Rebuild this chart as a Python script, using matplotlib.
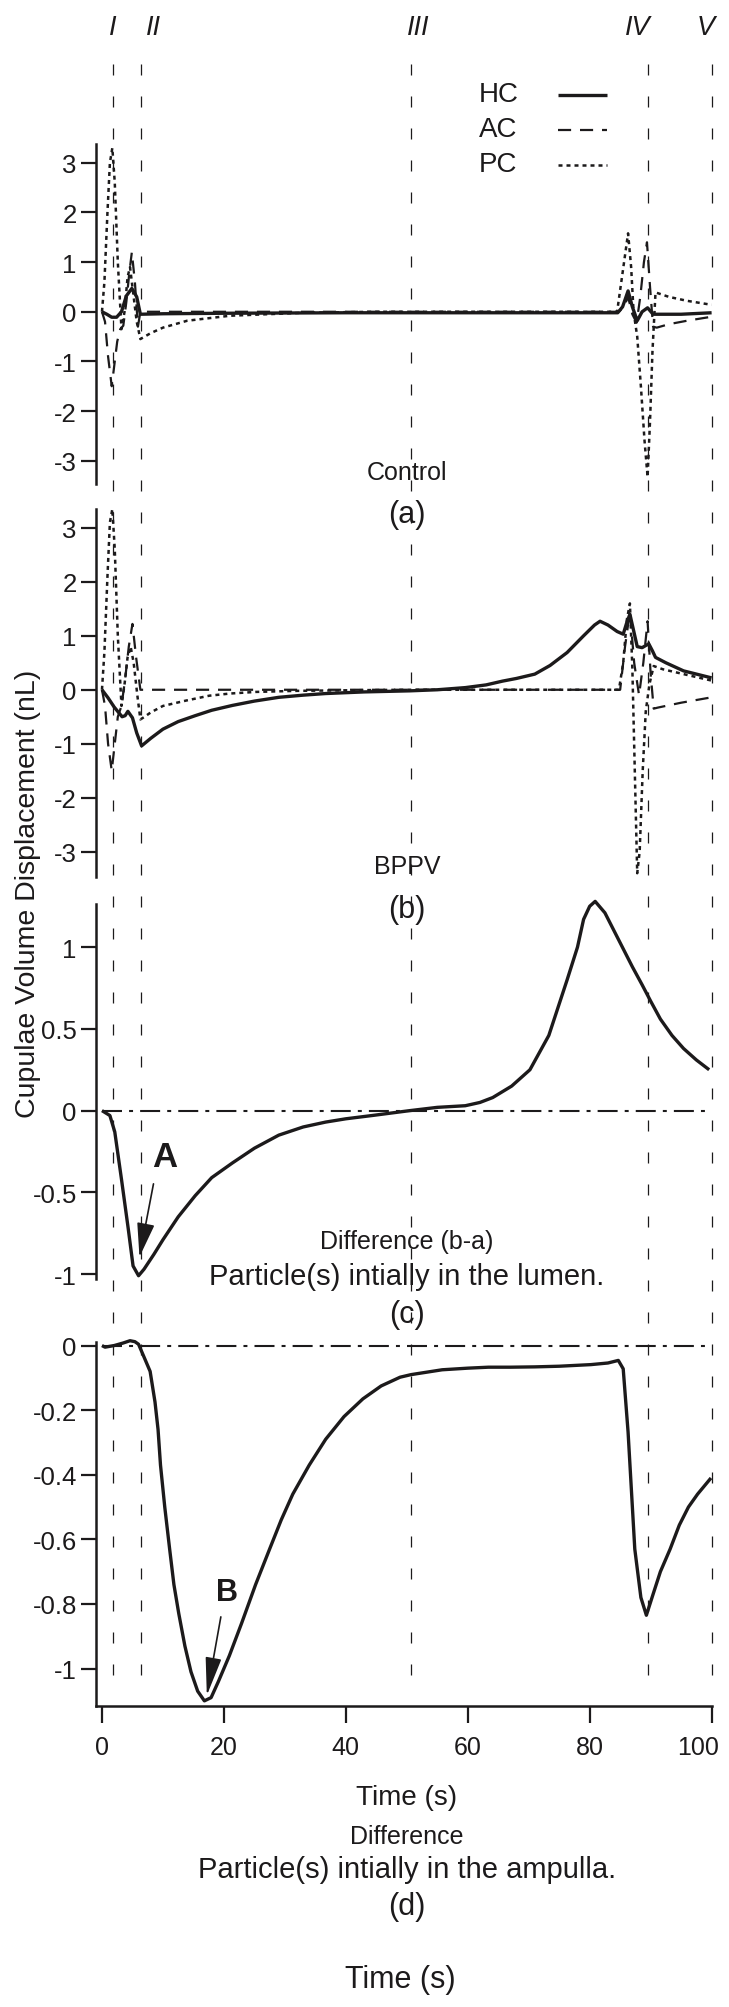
import matplotlib
matplotlib.use('Agg')
import matplotlib.pyplot as plt
from matplotlib.lines import Line2D
from matplotlib.transforms import blended_transform_factory, offset_copy, ScaledTranslation

plt.rcParams['font.family'] = ['Liberation Sans', 'DejaVu Sans']
plt.rcParams['axes.unicode_minus'] = False

# ---------------- data ----------------
phase_labels = ['I', 'II', 'III', 'IV', 'V']
phase_times = [1.8, 6.4, 50.7, 89.6, 100]

series_names = ['HC', 'AC', 'PC']

# (a) Control
a_hc_t = [0, 0.8, 1.6, 2.4, 3.2, 4.0, 4.9, 5.7, 6.3, 10, 20, 40, 60, 84.6, 85.4, 86.3, 87.0, 87.8, 88.6, 89.5, 90.4, 95, 100]
a_hc_v = [0, -0.05, -0.11, -0.11, 0.0, 0.32, 0.47, 0.3, -0.05, -0.04, -0.03, -0.02, -0.02, -0.02, 0.1, 0.42, 0.1, -0.18, 0.0, 0.08, -0.05, -0.05, -0.02]
a_ac_t = [0, 0.5, 1.0, 1.6, 2.0, 2.5, 3.0, 3.5, 4.0, 4.5, 4.9, 5.4, 5.9, 6.3, 84.8, 85.6, 86.3, 87.0, 87.7, 88.3, 88.9, 89.4, 89.9, 90.4, 91.0, 93, 96, 100]
a_ac_v = [0, -0.2, -0.9, -1.5, -1.1, -0.6, -0.35, -0.28, 0.2, 0.8, 1.2, 0.6, -0.3, 0.0, 0.0, 0.1, 0.3, -0.05, -0.22, 0.3, 1.0, 1.4, 0.5, -0.3, -0.32, -0.25, -0.18, -0.1]
a_pc_t = [0, 0.4, 0.9, 1.3, 1.7, 2.1, 2.6, 3.2, 3.7, 4.2, 4.6, 5.1, 5.7, 6.3, 8, 10, 14, 21, 33, 45, 84.5, 85.3, 86.3, 86.8, 87.2, 87.8, 88.4, 89.0, 89.5, 89.9, 90.3, 90.8, 93, 96, 100]
a_pc_v = [0, 0.6, 2.0, 3.0, 3.3, 2.6, 1.0, -0.35, 0.0, 0.7, 0.9, 0.4, -0.2, -0.55, -0.43, -0.32, -0.18, -0.08, -0.02, 0.0, 0.0, 0.7, 1.58, 0.9, 0.0, -0.5, -1.5, -2.6, -3.33, -2.2, -0.8, 0.39, 0.3, 0.22, 0.14]

# (b) BPPV
b_hc_t = [0, 1, 2, 3.3, 3.8, 4.25, 5.0, 5.7, 6.5, 8, 10, 12.5, 15.3, 18, 21.4, 25, 29, 33, 36.7, 43, 50.5, 55, 59.6, 63, 65.7, 68, 71, 73.5, 76.3, 79, 80.8, 81.7, 83, 84.5, 85.5, 86.1, 86.6, 87.2, 87.8, 88.6, 89.2, 89.7, 90.3, 90.8, 92.5, 95.4, 100]
b_hc_v = [0, -0.15, -0.32, -0.5, -0.48, -0.4, -0.52, -0.8, -1.04, -0.9, -0.73, -0.59, -0.48, -0.38, -0.29, -0.21, -0.14, -0.1, -0.07, -0.04, -0.02, 0.0, 0.04, 0.09, 0.16, 0.21, 0.29, 0.45, 0.69, 1.0, 1.2, 1.27, 1.2, 1.08, 1.03, 1.25, 1.4, 1.1, 0.8, 0.78, 0.82, 0.85, 0.72, 0.6, 0.5, 0.35, 0.22]
b_ac_t = [0, 0.5, 1.0, 1.6, 2.1, 2.6, 3.2, 3.8, 4.4, 5.0, 5.6, 6.3, 85.0, 85.8, 86.6, 87.3, 88.1, 88.8, 89.5, 90.0, 90.5, 91.2, 95, 100]
b_ac_v = [0, -0.3, -1.0, -1.5, -1.0, -0.5, -0.3, 0.2, 0.8, 1.22, 0.6, 0.0, 0.0, 0.8, 1.45, 0.5, -0.1, 0.5, 1.27, 0.3, -0.35, -0.33, -0.24, -0.14]
b_pc_t = [0, 0.4, 0.9, 1.3, 1.7, 2.1, 2.6, 3.2, 3.7, 4.2, 4.7, 5.2, 5.8, 6.3, 7, 8, 10, 13.8, 17.6, 21, 25.2, 32, 40, 50, 84.8, 85.5, 86.1, 86.6, 87.0, 87.4, 87.8, 88.2, 88.7, 89.2, 89.8, 90.5, 92, 95.4, 100]
b_pc_v = [0, 0.7, 2.1, 3.1, 3.35, 2.6, 1.0, -0.3, 0.1, 0.6, 0.8, 0.5, -0.1, -0.55, -0.5, -0.42, -0.3, -0.2, -0.11, -0.07, -0.04, -0.02, -0.01, 0.0, 0.0, 0.5, 1.3, 1.6, 0.4, -1.5, -3.4, -3.0, -1.5, -0.4, 0.1, 0.44, 0.38, 0.29, 0.17]

# (c) Difference (b-a), particle(s) initially in the lumen
c_t = [0, 1.3, 2.1, 3.2, 4.3, 5.1, 6.0, 6.9, 8.5, 10, 12.5, 15.3, 18, 21.4, 25, 29, 33, 36.7, 40, 44.3, 50.5, 55, 59.6, 62, 64.1, 67.2, 70.2, 73.3, 76.3, 78.0, 79.0, 80.0, 80.9, 82.5, 84, 85.5, 87, 88.6, 90, 91.6, 93.5, 95.4, 97.5, 99.6]
c_v = [0, -0.03, -0.13, -0.42, -0.72, -0.95, -1.01, -0.97, -0.88, -0.79, -0.65, -0.52, -0.41, -0.32, -0.23, -0.15, -0.1, -0.07, -0.05, -0.03, 0.0, 0.02, 0.03, 0.05, 0.08, 0.15, 0.25, 0.46, 0.8, 1.0, 1.17, 1.25, 1.28, 1.21, 1.1, 0.99, 0.88, 0.77, 0.67, 0.56, 0.46, 0.38, 0.31, 0.25]

# (d) Difference, particle(s) initially in the ampulla
d_t = [0, 0.5, 2.0, 3.5, 4.6, 5.4, 6.0, 7.0, 7.9, 8.7, 9.2, 9.6, 10.3, 11.1, 11.8, 12.6, 13.6, 14.6, 15.7, 16.8, 17.9, 19.1, 20.9, 22.9, 25.2, 27.5, 29.4, 31.3, 34, 36.7, 39.7, 42.8, 45.8, 48.9, 50.7, 55.8, 60, 63.4, 67, 71, 75, 80.2, 83.0, 84.7, 85.5, 86.3, 87.4, 88.4, 89.3, 90.4, 91.6, 93.2, 94.7, 96.2, 97.7, 99.9]
d_v = [0, -0.005, 0.0, 0.008, 0.015, 0.012, 0.004, -0.04, -0.08, -0.175, -0.26, -0.37, -0.5, -0.63, -0.74, -0.83, -0.93, -1.01, -1.07, -1.1, -1.09, -1.04, -0.96, -0.86, -0.74, -0.63, -0.54, -0.46, -0.37, -0.29, -0.22, -0.165, -0.125, -0.098, -0.09, -0.075, -0.07, -0.067, -0.067, -0.066, -0.064, -0.059, -0.054, -0.046, -0.072, -0.268, -0.63, -0.78, -0.835, -0.77, -0.70, -0.63, -0.556, -0.50, -0.46, -0.41]

zero_t = [0, 99.8]
zero_v = [0, 0]

yticks_ab = [3, 2, 1, 0, -1, -2, -3]
yticklabels_ab = ['3', '2', '1', '0', '-1', '-2', '-3']
yticks_c = [1, 0.5, 0, -0.5, -1]
yticklabels_c = ['1', '0.5', '0', '-0.5', '-1']
yticks_d = [0, -0.2, -0.4, -0.6, -0.8, -1]
yticklabels_d = ['0', '-0.2', '-0.4', '-0.6', '-0.8', '-1']
xticks_d = [0, 20, 40, 60, 80, 100]
xticklabels_d = ['0', '20', '40', '60', '80', '100']

# ---------------- layout ----------------
W, H = 729, 2008
INK = '#1c1a1b'
fig = plt.figure(figsize=(W / 100, H / 100), dpi=100)
fig.patch.set_facecolor('white')

LEFT = 96.3 / W
WIDTH = (711.6 - 96.3) / W
XLIM = (-0.93, 100)


def fy(y):
    return 1 - y / H


def make_ax(top, bottom):
    return fig.add_axes([LEFT, 1 - bottom / H, WIDTH, (bottom - top) / H])


ax_a = make_ax(145, 485)
ax_b = make_ax(510, 878)
ax_c = make_ax(905, 1280)
ax_d = make_ax(1343, 1706.7)

styles = {
    'HC': dict(color=INK, lw=2.4, solid_capstyle='butt'),
    'AC': dict(color=INK, lw=1.6, dashes=(5.9, 4.0)),
    'PC': dict(color=INK, lw=1.8, dashes=(1.6, 1.6)),
}

for ax, ylim, yt, ytl in [
    (ax_a, (-3.47, 3.38), yticks_ab, yticklabels_ab),
    (ax_b, (-3.47, 3.35), yticks_ab, yticklabels_ab),
    (ax_c, (-1.03, 1.264), yticks_c, yticklabels_c),
    (ax_d, (-1.115, 0.011), yticks_d, yticklabels_d),
]:
    ax.set_xlim(*XLIM)
    ax.set_ylim(*ylim)
    ax.patch.set_alpha(0)
    for s in ['top', 'right', 'bottom']:
        ax.spines[s].set_visible(False)
    ax.spines['left'].set_linewidth(1.8)
    ax.spines['left'].set_color(INK)
    ax.set_yticks(yt)
    ax.set_yticklabels(ytl)
    ax.tick_params(axis='y', direction='out', length=11, width=1.6, pad=3,
                   labelsize=18.5, colors=INK)
    ax.set_xticks([])

# panel d bottom axis
ax_d.spines['bottom'].set_visible(True)
ax_d.spines['bottom'].set_linewidth(1.8)
ax_d.spines['bottom'].set_color(INK)
ax_d.set_xticks(xticks_d)
ax_d.set_xticklabels(xticklabels_d)
ax_d.tick_params(axis='x', direction='out', length=12, width=1.6, pad=9,
                 labelsize=18, colors=INK)
last = ax_d.get_xticklabels()[-1]
last.set_transform(last.get_transform() + ScaledTranslation(-0.14, 0, fig.dpi_scale_trans))

# curves
ax_a.plot(a_pc_t, a_pc_v, clip_on=False, **styles['PC'])
ax_a.plot(a_ac_t, a_ac_v, clip_on=False, **styles['AC'])
ax_a.plot(a_hc_t, a_hc_v, clip_on=False, **styles['HC'])

ax_b.plot(b_pc_t, b_pc_v, clip_on=False, **styles['PC'])
ax_b.plot(b_ac_t, b_ac_v, clip_on=False, **styles['AC'])
ax_b.plot(b_hc_t, b_hc_v, clip_on=False, **styles['HC'])

zero_style = dict(color=INK, lw=1.5, dashes=(9.6, 3.4, 1.9, 3.4))
ax_c.plot(zero_t, zero_v, **zero_style)
ax_c.plot(c_t, c_v, clip_on=False, **styles['HC'])
ax_d.plot(zero_t, zero_v, **zero_style)
ax_d.plot(d_t, d_v, clip_on=False, **styles['HC'])

# arrows A and B
ax_c.annotate('', xy=(6.15, -0.895), xytext=(8.45, -0.448),
              arrowprops=dict(arrowstyle='-|>,head_length=0.85,head_width=0.22',
                              color=INK, lw=1.2, shrinkA=0, shrinkB=0,
                              mutation_scale=25))
ax_c.text(10.33, -0.283, 'A', fontsize=25, fontweight='bold', color=INK,
          ha='center', va='center')
ax_d.annotate('', xy=(17.2, -1.083), xytext=(19.5, -0.84),
              arrowprops=dict(arrowstyle='-|>,head_length=0.95,head_width=0.2',
                              color=INK, lw=1.2, shrinkA=0, shrinkB=0,
                              mutation_scale=25))
ax_d.text(20.5, -0.763, 'B', fontsize=22, fontweight='bold', color=INK,
          ha='center', va='center')

# phase lines spanning all panels
btr = blended_transform_factory(ax_d.transData, fig.transFigure)
for t in phase_times:
    fig.add_artist(Line2D([t, t], [fy(65), fy(1693)], transform=btr,
                          color=INK, lw=0.9, dashes=(8.8, 16.8)))
label_dx_px = [0, 12.6, 7.4, -10.2, -6.0]
for lab, t, dx in zip(phase_labels, phase_times, label_dx_px):
    tr = offset_copy(btr, fig=fig, x=dx * 0.72, y=0, units='points')
    fig.text(t, fy(28), lab, transform=tr, fontsize=19.5, fontstyle='italic',
             ha='center', va='center', color=INK)

# legend (manual, upper right of panel a)
leg_y = [95, 130, 165]
for name, y in zip(series_names, leg_y):
    fig.text(479 / W, fy(y), name, fontsize=20, ha='left', va='center', color=INK)
    fig.add_artist(Line2D([558 / W, 607 / W], [fy(y + 1), fy(y + 1)],
                          transform=fig.transFigure, **styles[name]))

# captions
cx = 407 / W
fig.text(cx, fy(473), 'Control', fontsize=18, ha='center', va='center', color=INK)
fig.text(cx, fy(515), '(a)', fontsize=22, ha='center', va='center', color=INK)
fig.text(cx, fy(866.7), 'BPPV', fontsize=18, ha='center', va='center', color=INK)
fig.text(cx, fy(910), '(b)', fontsize=22, ha='center', va='center', color=INK)
fig.text(cx, fy(1241.7), 'Difference (b-a)', fontsize=18, ha='center', va='center', color=INK)
fig.text(cx, fy(1276.7), 'Particle(s) intially in the lumen.', fontsize=21,
         ha='center', va='center', color=INK)
fig.text(cx, fy(1315), '(c)', fontsize=22, ha='center', va='center', color=INK)
fig.text(cx, fy(1798), 'Time (s)', fontsize=20, ha='center', va='center', color=INK)
fig.text(cx, fy(1836.7), 'Difference', fontsize=18, ha='center', va='center', color=INK)
fig.text(cx, fy(1870), 'Particle(s) intially in the ampulla.', fontsize=21,
         ha='center', va='center', color=INK)
fig.text(cx, fy(1906.7), '(d)', fontsize=22, ha='center', va='center', color=INK)
fig.text(400 / W, fy(1980), 'Time (s)', fontsize=22, ha='center', va='center', color=INK)

fig.text(28 / W, fy(894), 'Cupulae Volume Displacement (nL)', fontsize=20.5,
         rotation=90, ha='center', va='center', color=INK)

fig.savefig('out.png', dpi=100, facecolor='white')
